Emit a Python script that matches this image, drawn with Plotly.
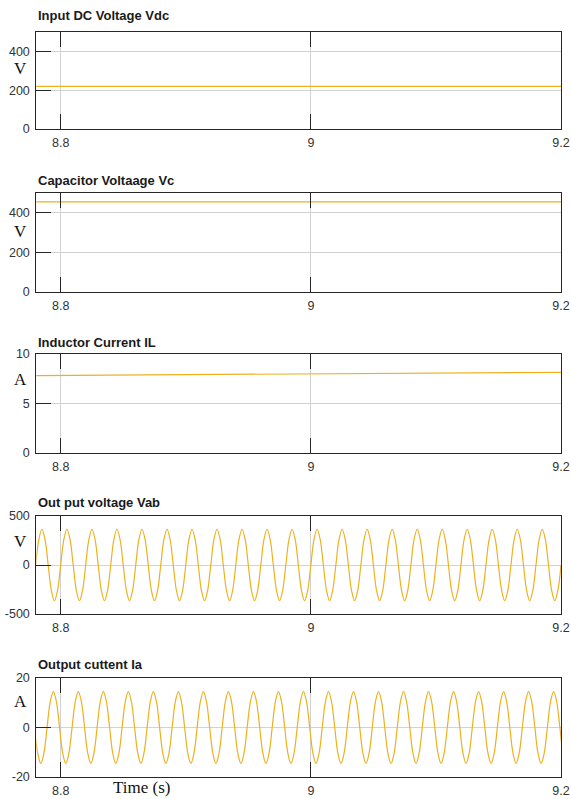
import plotly.graph_objects as go

W, H = 571, 799

# ---------------- data ----------------
x_ticks = [8.8, 9.0, 9.2]
x_tick_labels = ["8.8", "9", "9.2"]

titles = ["Input DC Voltage Vdc", "Capacitor Voltaage Vc", "Inductor Current IL",
          "Out put voltage Vab", "Output cuttent Ia"]
units = ["V", "V", "A", "V", "A"]

y_ranges = [[0, 500], [0, 500], [0, 10], [-500, 500], [-20, 20]]
y_ticks = [[0, 200, 400], [0, 200, 400], [0, 5, 10], [-500, 0, 500], [-20, 0, 20]]
y_tick_labels = [["0", "200", "400"], ["0", "200", "400"], ["0", "5", "10"],
                 ["-500", "0", "500"], ["-20", "0", "20"]]

t_dc = [8.78, 8.90, 9.00, 9.10, 9.20]
vdc = [220, 220, 220, 220, 220]
vc = [455, 455, 455, 455, 455]
il = [7.82, 7.90, 7.98, 8.06, 8.15]

# sampled waveforms: start time and sample step (1/8 of a 50 Hz period)
vab_t0 = 8.780
ia_t0 = 8.7791
sample_dt = 0.0025

vab = [
    0, 258, 365, 258, 0, -258, -365, -258,
    0, 258, 365, 258, 0, -258, -365, -258,
    0, 258, 365, 258, 0, -258, -365, -258,
    0, 258, 365, 258, 0, -258, -365, -258,
    0, 258, 365, 258, 0, -258, -365, -258,
    0, 258, 365, 258, 0, -258, -365, -258,
    0, 258, 365, 258, 0, -258, -365, -258,
    0, 258, 365, 258, 0, -258, -365, -258,
    0, 258, 365, 258, 0, -258, -365, -258,
    0, 258, 365, 258, 0, -258, -365, -258,
    0, 258, 365, 258, 0, -258, -365, -258,
    0, 258, 365, 258, 0, -258, -365, -258,
    0, 258, 365, 258, 0, -258, -365, -258,
    0, 258, 365, 258, 0, -258, -365, -258,
    0, 258, 365, 258, 0, -258, -365, -258,
    0, 258, 365, 258, 0, -258, -365, -258,
    0, 258, 365, 258, 0, -258, -365, -258,
    0, 258, 365, 258, 0, -258, -365, -258,
    0, 258, 365, 258, 0, -258, -365, -258,
    0, 258, 365, 258, 0, -258, -365, -258,
    0, 258, 365, 258, 0, -258, -365, -258,
    0,
]

ia = [
    0, -10.3, -14.5, -10.3, 0, 10.3, 14.5, 10.3,
    0, -10.3, -14.5, -10.3, 0, 10.3, 14.5, 10.3,
    0, -10.3, -14.5, -10.3, 0, 10.3, 14.5, 10.3,
    0, -10.3, -14.5, -10.3, 0, 10.3, 14.5, 10.3,
    0, -10.3, -14.5, -10.3, 0, 10.3, 14.5, 10.3,
    0, -10.3, -14.5, -10.3, 0, 10.3, 14.5, 10.3,
    0, -10.3, -14.5, -10.3, 0, 10.3, 14.5, 10.3,
    0, -10.3, -14.5, -10.3, 0, 10.3, 14.5, 10.3,
    0, -10.3, -14.5, -10.3, 0, 10.3, 14.5, 10.3,
    0, -10.3, -14.5, -10.3, 0, 10.3, 14.5, 10.3,
    0, -10.3, -14.5, -10.3, 0, 10.3, 14.5, 10.3,
    0, -10.3, -14.5, -10.3, 0, 10.3, 14.5, 10.3,
    0, -10.3, -14.5, -10.3, 0, 10.3, 14.5, 10.3,
    0, -10.3, -14.5, -10.3, 0, 10.3, 14.5, 10.3,
    0, -10.3, -14.5, -10.3, 0, 10.3, 14.5, 10.3,
    0, -10.3, -14.5, -10.3, 0, 10.3, 14.5, 10.3,
    0, -10.3, -14.5, -10.3, 0, 10.3, 14.5, 10.3,
    0, -10.3, -14.5, -10.3, 0, 10.3, 14.5, 10.3,
    0, -10.3, -14.5, -10.3, 0, 10.3, 14.5, 10.3,
    0, -10.3, -14.5, -10.3, 0, 10.3, 14.5, 10.3,
    0, -10.3, -14.5, -10.3, 0, 10.3, 14.5, 10.3,
    0, -10.3, -14.5,
]

# ---------------- layout geometry (pixels of the 571x799 page) ----------------
x_left, x_right = 36.3, 561
panel_px = [(32, 129), (193, 292), (354, 453), (516, 614), (678, 777)]
title_y_px = [15, 181, 342, 502, 664]
unit_y_px = [69, 232, 379, 541, 701]

LINE = "#EDB120"
AX = "#262626"
GRID = "#d2d2d2"

fig = go.Figure()

ref = ["", "2", "3", "4", "5"]
for i in range(5):
    xr, yr = "x" + ref[i], "y" + ref[i]
    if i == 0:
        tr = go.Scatter(x=t_dc, y=vdc)
    elif i == 1:
        tr = go.Scatter(x=t_dc, y=vc)
    elif i == 2:
        tr = go.Scatter(x=t_dc, y=il)
    elif i == 3:
        tr = go.Scatter(x0=vab_t0, dx=sample_dt, y=vab, line_shape="spline")
    else:
        tr = go.Scatter(x0=ia_t0, dx=sample_dt, y=ia, line_shape="spline")
    tr.update(mode="lines", line=dict(color=LINE, width=1.2), xaxis=xr, yaxis=yr,
              showlegend=False, hoverinfo="skip")
    fig.add_trace(tr)

    top, bot = panel_px[i]
    xkey = "xaxis" + ref[i]
    ykey = "yaxis" + ref[i]
    fig.layout[xkey] = dict(
        domain=[x_left / W, x_right / W], anchor=yr, automargin=False,
        range=[8.7805, 9.2], tickvals=x_ticks, ticktext=x_tick_labels,
        ticks="inside", ticklen=15, tickwidth=1, tickcolor=AX,
        showline=True, linecolor=AX, linewidth=1, mirror="ticks",
        showgrid=True, gridcolor=GRID, gridwidth=1, zeroline=False,
        ticklabelstandoff=2,
        tickfont=dict(family="Liberation Sans, Arial", size=12.5, color="#333333"),
        fixedrange=True,
    )
    fig.layout[ykey] = dict(
        domain=[1 - bot / H, 1 - top / H], anchor=xr, automargin=False,
        range=y_ranges[i], tickvals=y_ticks[i], ticktext=y_tick_labels[i],
        ticks="inside", ticklen=15, tickwidth=1, tickcolor=AX,
        showline=True, linecolor=AX, linewidth=1, mirror=True,
        showgrid=True, gridcolor=GRID, gridwidth=1, zeroline=False,
        ticklabelstandoff=3,
        tickfont=dict(family="Liberation Sans, Arial", size=12.5, color="#333333"),
        fixedrange=True,
    )

    fig.add_annotation(
        text="<b>" + titles[i] + "</b>", xref="paper", yref="paper",
        x=36 / W, y=1 - title_y_px[i] / H, xanchor="left", yanchor="middle",
        showarrow=False,
        font=dict(family="Liberation Sans, Arial", size=13, color="#1a1a1a"),
    )
    fig.add_annotation(
        text=units[i], xref="paper", yref="paper",
        x=20 / W, y=1 - unit_y_px[i] / H, xanchor="center", yanchor="middle",
        showarrow=False,
        font=dict(family="Liberation Serif, Times New Roman", size=17, color="#111111"),
    )

fig.add_annotation(
    text="Time (s)", xref="paper", yref="paper",
    x=141 / W, y=1 - 787 / H, xanchor="center", yanchor="middle", showarrow=False,
    font=dict(family="Liberation Serif, Times New Roman", size=17, color="#111111"),
)

fig.update_layout(
    autosize=True, margin=dict(l=0, r=0, t=0, b=0, autoexpand=False),
    paper_bgcolor="white", plot_bgcolor="white",
)

fig.write_html(
    "out.html",
    config={"displayModeBar": False, "responsive": True},
    default_width="100vw", default_height="100vh",
    post_script="document.documentElement.style.margin='0';"
                "document.documentElement.style.overflow='hidden';"
                "document.body.style.margin='0';document.body.style.padding='0';"
                "document.body.style.overflow='hidden';"
                "window.dispatchEvent(new Event('resize'));",
)
